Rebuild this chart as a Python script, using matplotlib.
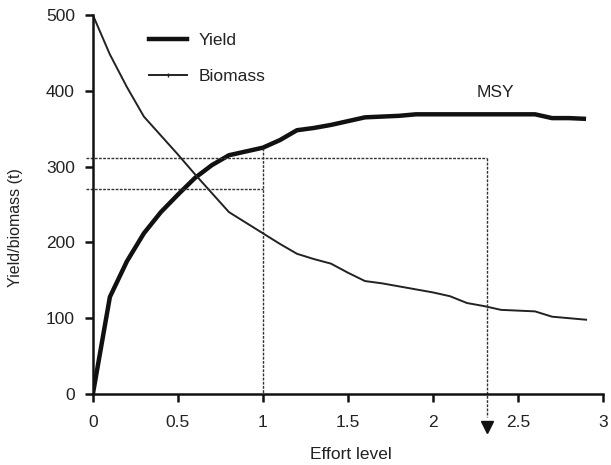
import matplotlib
matplotlib.use("Agg")
import matplotlib.pyplot as plt
from matplotlib.lines import Line2D

plt.rcParams['font.family'] = ['Liberation Sans', 'DejaVu Sans']

effort = [0.0, 0.1, 0.2, 0.3, 0.4, 0.5, 0.6, 0.7, 0.8, 0.9, 1.0, 1.1, 1.2, 1.3, 1.4,
          1.5, 1.6, 1.7, 1.8, 1.9, 2.0, 2.1, 2.2, 2.3, 2.4, 2.5, 2.6, 2.7, 2.8, 2.9]
yield_t = [0, 128, 175, 212, 240, 263, 285, 302, 315, 320, 325, 335, 348, 351, 355,
           360, 365, 366, 367, 369, 369, 369, 369, 369, 369, 369, 369, 364, 364, 363]
biomass_t = [500, 448, 405, 366, 341, 316, 290, 265, 240, 226, 212, 198, 185, 178, 172,
             160, 149, 146, 142, 138, 134, 129, 120, 116, 111, 110, 109, 102, 100, 98]

msy_effort = 2.32
msy_level = 312
ref_effort = 1.0
ref_yield = 325
ref_level = 271

fig = plt.figure(figsize=(6.11, 4.65), dpi=100)
ax = fig.add_axes([0.152, 0.1527, 0.835, 0.815])

ax.plot(effort, yield_t, color='#111111', lw=3.2, solid_capstyle='butt')
ax.plot(effort, biomass_t, color='#222222', lw=1.4)

# reference lines
dash = (0, (2, 1))
ax.plot([-0.04, msy_effort], [msy_level, msy_level], color='#333333', lw=1.0, ls=dash, clip_on=False)
ax.plot([msy_effort, msy_effort], [msy_level, -30], color='#333333', lw=1.0, ls=dash, clip_on=False)
ax.plot([-0.04, ref_effort], [ref_level, ref_level], color='#333333', lw=1.0, ls=dash, clip_on=False)
ax.plot([ref_effort, ref_effort], [ref_yield, 0], color='#333333', lw=1.0, ls=dash, clip_on=False)
ax.plot([msy_effort], [-43], marker='v', color='#111111', markersize=9, clip_on=False, ls='none')

ax.text(2.37, 398, 'MSY', fontsize=12.5, ha='center', va='center', color='#222222')

ax.set_xlim(0, 3)
ax.set_ylim(0, 500)
ax.set_xticks([0, 0.5, 1, 1.5, 2, 2.5, 3])
ax.set_xticklabels(['0', '0.5', '1', '1.5', '2', '2.5', '3'])
ax.set_yticks([0, 100, 200, 300, 400, 500])
for s in ['top', 'right']:
    ax.spines[s].set_visible(False)
for s in ['left', 'bottom']:
    ax.spines[s].set_linewidth(1.8)
    ax.spines[s].set_color('#111111')
ax.tick_params(direction='out', length=6, width=1.8, labelsize=12.5, colors='#111111', labelcolor='#222222')
ax.tick_params(axis='x', pad=9)
ax.tick_params(axis='y', pad=7)

ax.set_xlabel('Effort level', fontsize=12.5, color='#222222')
ax.set_ylabel('Yield/biomass (t)', fontsize=11.5, color='#222222')
ax.xaxis.set_label_coords(0.505, -0.14)
ax.yaxis.set_label_coords(-0.137, 0.44)

handles = [Line2D([], [], color='#111111', lw=3.2),
           Line2D([], [], color='#222222', lw=1.4, marker='|', markersize=3)]
leg = ax.legend(handles, ['Yield', 'Biomass'], loc='upper left', bbox_to_anchor=(0.08, 0.995),
                frameon=False, fontsize=12.5, handlelength=2.15, labelspacing=1.2, handletextpad=0.7)
for t in leg.get_texts():
    t.set_color('#222222')

fig.savefig('out.png', dpi=100)
